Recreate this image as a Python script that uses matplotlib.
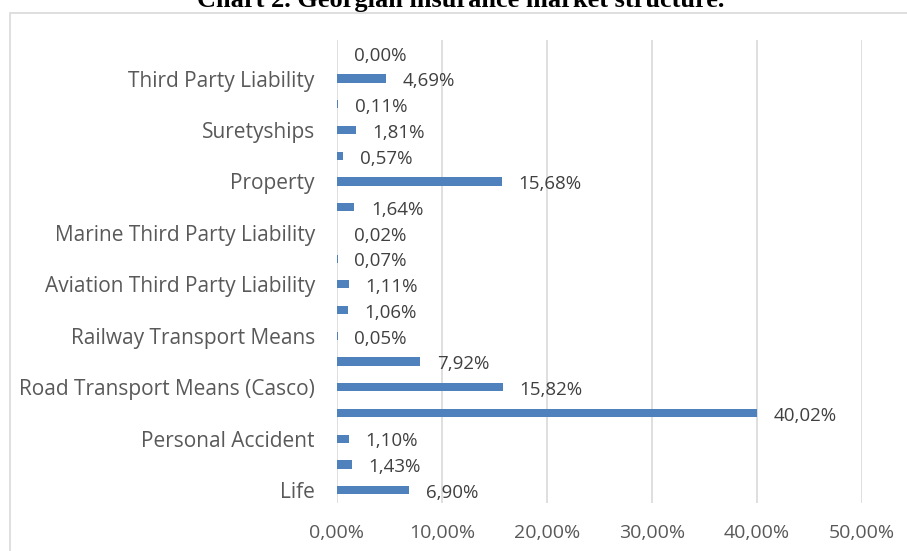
import matplotlib
matplotlib.use("Agg")
import matplotlib.pyplot as plt
from matplotlib.patches import Rectangle

# bottom to top
categories = [
    "Life", "Health", "Personal Accident", "Medical Expenses",
    "Road Transport Means (Casco)", "Motor Third Party Liability",
    "Railway Transport Means", "Aviation Transport Means",
    "Aviation Third Party Liability", "Marine Transport Means",
    "Marine Third Party Liability", "Cargo", "Property", "Financial Risks",
    "Suretyships", "Credits", "Third Party Liability", "Other",
]
shown = [True, False] * 9
values = [6.90, 1.43, 1.10, 40.02, 15.82, 7.92, 0.05, 1.06, 1.11, 0.07,
          0.02, 1.64, 15.68, 0.57, 1.81, 0.11, 4.69, 0.00]
xticks = [0, 10, 20, 30, 40, 50]

font = ["Open Sans", "DejaVu Sans"]
plt.rcParams['font.family'] = font

fig = plt.figure(figsize=(9.07, 5.51), dpi=100)
W, H = 907, 551
ax = fig.add_axes([337 / W, 1 - 503 / H, (862 - 337) / W, (503 - 40) / H])

y = list(range(len(categories)))
ax.barh(y, values, height=0.32, color="#4F81BD", edgecolor="none", zorder=3)
for yi, v in zip(y, values):
    ax.annotate(f"{v:.2f}%".replace(".", ","), (v, yi), xytext=(12, -2),
                textcoords="offset points", va="center", ha="left",
                fontsize=13.5, color="#404040")

ax.set_xlim(0, 50)
ax.set_ylim(-0.5, len(categories) - 0.5)
ax.set_xticks(xticks)
ax.set_xticklabels([f"{t:.2f}%".replace(".", ",") for t in xticks])
ax.set_yticks(y)
ax.set_yticklabels([c if s else "" for c, s in zip(categories, shown)])
ax.tick_params(axis="both", length=0, colors="#595959")
ax.tick_params(axis="y", pad=16, labelsize=15)
ax.tick_params(axis="x", pad=15, labelsize=14)
ax.grid(axis="x", color="#D9D9D9", linewidth=1.2, zorder=0)
for s in ax.spines.values():
    s.set_visible(False)

fig.patches.append(Rectangle((9.5 / W, -0.1), 1.2, 1 - 12.7 / H + 0.1,
                             transform=fig.transFigure, fill=False,
                             edgecolor="#D9D9D9", linewidth=1.2))
fig.text(461 / W, 1 - 7 / H, "Chart 2. Georgian insurance market structure.",
         ha="center", va="baseline", fontsize=19, fontweight="bold",
         family="Liberation Serif", color="#000000")

fig.savefig("out.png", dpi=100)
